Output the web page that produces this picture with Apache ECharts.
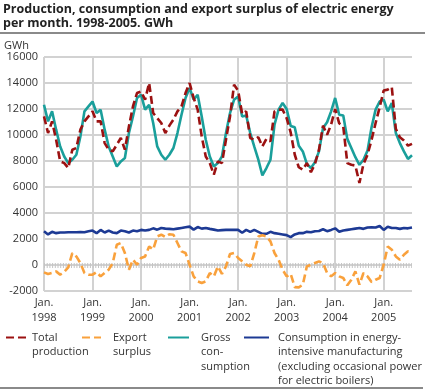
<!DOCTYPE html>
<html><head><meta charset="utf-8">
<script src="https://cdn.jsdelivr.net/npm/echarts@6/dist/echarts.min.js"></script>
<style>html,body{margin:0;padding:0;background:#fff}#c{width:430px;height:391px}</style>
</head><body><div id="c"></div>
<script>
var years = [1998,1999,2000,2001,2002,2003,2004,2005];
var monthsCount = 92;
var categories = [];
for (var k = 0; k < monthsCount; k++) { categories.push((1998 + Math.floor(k/12)) + '-' + String(k%12+1).padStart(2,'0')); }
var yTicks = [-2000, 0, 2000, 4000, 6000, 8000, 10000, 12000, 14000, 16000];

var totalProduction = [11430,10150,11050,9640,7970,7840,7460,8870,9000,10410,11050,11430,
 11820,11050,11050,9380,8870,8740,9250,9770,8870,10660,12200,13230,
 13350,12720,14000,11690,11300,10920,10150,10720,11180,11820,12200,13230,
 14000,12850,11950,9890,8350,7840,6950,7970,7840,9640,11430,13870,
 13420,11620,11820,9770,9640,9830,9120,9700,9510,11820,11950,11950,
 11300,10200,8500,7520,7330,7840,7140,7770,8870,10720,10020,10800,
 12000,10900,10660,7840,7710,7650,6310,7770,8480,9630,10920,12140,
 13420,13490,13680,10480,9830,9580,9180,9320];
var exportSurplus = [-570,-690,-615,-490,-745,-520,-180,920,660,150,-615,-745,
 -745,-540,-875,-615,-360,150,1560,1690,920,-360,410,20,
 540,660,1430,1180,2200,2330,2150,2370,2330,1690,1050,920,
 20,-875,-1260,-1380,-1260,-615,-875,-105,-690,-105,845,920,
 540,280,20,-105,920,2200,2280,2200,1815,920,410,-360,
 -875,-680,-1700,-1720,-1515,-105,20,150,280,150,-615,-875,
 -615,-875,-1000,-1565,-1130,-490,-1515,-615,-875,-1310,-1130,-1000,
 20,1430,1180,660,410,790,1050,920];
var grossConsumption = [12330,11050,11820,10410,9120,8350,7840,8100,8480,9890,11820,12200,
 12580,11690,11950,10410,9120,8350,7580,7970,8230,10150,11430,12850,
 13100,11950,12330,10920,9120,8480,8100,8480,9000,10150,11560,12850,
 13620,12720,13100,11430,9640,8350,7580,7840,8350,10150,11690,12720,
 12970,11430,11500,10150,9100,8100,6900,7460,8100,10800,11950,12460,
 12000,10700,10600,9180,8740,7780,7460,7900,8740,10540,10980,11820,
 12850,11560,11500,9700,9000,8290,7710,8100,8800,10600,11950,12580,
 12720,11820,12460,10150,9380,8740,8160,8440];
var energyIntensive = [2600,2350,2550,2450,2500,2500,2520,2520,2520,2530,2520,2600,
 2650,2450,2700,2500,2650,2500,2450,2650,2600,2500,2650,2600,
 2700,2650,2700,2820,2720,2850,2800,2780,2750,2800,2850,2900,
 2950,2720,2920,2800,2850,2780,2720,2650,2680,2700,2700,2700,
 2700,2480,2700,2550,2700,2550,2400,2400,2550,2450,2400,2350,
 2300,2150,2350,2450,2450,2550,2520,2600,2620,2750,2600,2700,
 2820,2560,2650,2700,2750,2800,2850,2780,2880,2900,2880,3000,
 2700,2950,2850,2850,2780,2850,2820,2880];

var FONT = 'Open Sans';
var cRed = '#9b1111', cOrange = '#f9a13c', cTeal = '#1a9f9b', cBlue = '#1d3a94';
var grid = '#d2d2d2';

function legendBlock(name, lines, left, top, iconW, padL) {
  var n = lines.length;
  return {
    data: [name], left: left, top: top, padding: 0, itemWidth: iconW, itemHeight: 4,
    selectedMode: false,
    itemStyle: { opacity: 0 },
    formatter: function () { return lines.map(function (l) { return '{a|' + l + '}'; }).join('\n'); },
    textStyle: { fontFamily: FONT, fontSize: 11, color: '#333', padding: [14.5 * (n - 1), 0, 0, padL],
      rich: { a: { fontFamily: FONT, fontSize: 11, color: '#333', lineHeight: 14.5 } } }
  };
}

var chart = echarts.init(document.getElementById('c'), null, { renderer: 'canvas' });
chart.setOption({
  animation: false,
  textStyle: { fontFamily: FONT },
  title: { text: 'Production, consumption and export surplus of electric energy\nper month. 1998-2005. GWh',
    left: 3, top: 2, padding: 0,
    textStyle: { fontFamily: FONT, fontSize: 12.5, fontWeight: 'bold', color: '#222', lineHeight: 14.5 } },
  graphic: [
    { type: 'line', shape: { x1: 0, y1: 33, x2: 425, y2: 33 }, style: { stroke: '#8a8a8a', lineWidth: 2 } },
    { type: 'line', shape: { x1: 0, y1: 388, x2: 423, y2: 388 }, style: { stroke: '#8a8a8a', lineWidth: 2 } }
  ],
  legend: [
    legendBlock('Total production', ['Total', 'production'], 5, 332, 21, 0),
    legendBlock('Export surplus', ['Export', 'surplus'], 81, 332, 19, 7),
    legendBlock('Gross consumption', ['Gross', 'con-', 'sumption'], 167, 332, 21, 7),
    legendBlock('Consumption in energy-intensive manufacturing', ['Consumption in energy-', 'intensive manufacturing', '(excluding occasional power', 'for electric boilers)'], 243, 332, 25, 4)
  ],
  grid: { left: 44, right: 18, top: 57, bottom: 100 },
  xAxis: {
    type: 'category', data: categories, boundaryGap: false,
    axisLine: { show: false }, axisTick: { show: false },
    axisLabel: { interval: function (i) { return i % 12 === 0; }, margin: 4, color: '#333', fontSize: 11, lineHeight: 15,
      formatter: function (v, i) { return 'Jan.\n' + years[Math.floor(i / 12)]; } },
    splitLine: { show: true, interval: function (i) { return i % 12 === 0; }, lineStyle: { color: grid, width: 2 } }
  },
  yAxis: {
    type: 'value', min: yTicks[0], max: yTicks[yTicks.length - 1], interval: 2000,
    name: 'GWh', nameLocation: 'end', nameGap: 5,
    nameTextStyle: { align: 'right', padding: [0, 15, 0, 0], color: '#333', fontSize: 11 },
    axisLine: { show: false }, axisTick: { show: false },
    axisLabel: { color: '#333', fontSize: 11, margin: 6, formatter: function (v) { return String(v); } },
    splitLine: { lineStyle: { color: grid, width: 2 } }
  },
  series: [
    { name: 'Gross consumption', type: 'line', data: grossConsumption, symbol: 'none', z: 3,
      lineStyle: { color: cTeal, width: 2.6 }, itemStyle: { color: cTeal } },
    { name: 'Consumption in energy-intensive manufacturing', type: 'line', data: energyIntensive, symbol: 'none', z: 3,
      lineStyle: { color: cBlue, width: 2.6 }, itemStyle: { color: cBlue } },
    { name: 'Export surplus', type: 'line', data: exportSurplus, symbol: 'none', z: 4,
      lineStyle: { color: cOrange, width: 2.6, type: [8, 4] }, itemStyle: { color: cOrange },
      markLine: { silent: true, symbol: 'none', label: { show: false }, z: 2,
        lineStyle: { color: '#c4c4c4', width: 5, type: [1, 1.7] }, data: [{ yAxis: 0 }] } },
    { name: 'Total production', type: 'line', data: totalProduction, symbol: 'none', z: 5,
      lineStyle: { color: cRed, width: 2.6, type: [8, 4] }, itemStyle: { color: cRed } }
  ]
});
</script></body></html>
